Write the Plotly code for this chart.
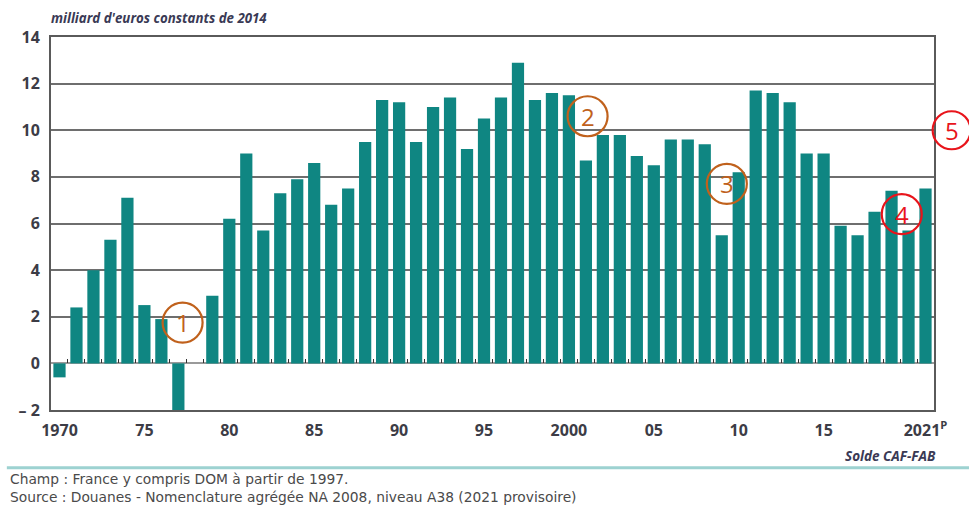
import plotly.graph_objects as go

years = list(range(1970, 2022))
values = [-0.6, 2.4, 4.0, 5.3, 7.1, 2.5, 1.9, -2.0, 0.0, 2.9,
          6.2, 9.0, 5.7, 7.3, 7.9, 8.6, 6.8, 7.5, 9.5, 11.3,
          11.2, 9.5, 11.0, 11.4, 9.2, 10.5, 11.4, 12.9, 11.3, 11.6,
          11.5, 8.7, 9.8, 9.8, 8.9, 8.5, 9.6, 9.6, 9.4, 5.5,
          8.2, 11.7, 11.6, 11.2, 9.0, 9.0, 5.9, 5.5, 6.5, 7.4,
          5.7, 7.5]

xtick_vals = [1970, 1975, 1980, 1985, 1990, 1995, 2000, 2005, 2010, 2015, 2021]
xtick_text = ["1970", "75", "80", "85", "90", "95", "2000", "05", "10", "15", "2021<sup>P</sup>"]
ytick_vals = [-2, 0, 2, 4, 6, 8, 10, 12, 14]
ytick_text = ["– 2", "0", "2", "4", "6", "8", "10", "12", "14"]
minor_ticks = [y + 0.5 for y in years[:-1]]

# circled call-outs: (label, year, value, colour)
callouts = [("1", 1977.25, 1.75, "#c0611c"),
            ("2", 2001.1, 10.6, "#c0611c"),
            ("3", 2009.3, 7.7, "#c0611c"),
            ("4", 2019.6, 6.4, "#e8141b")]
callout5 = ("5", "#e8141b")

BAR = "#0f8682"
TXT = "#3c3c46"
FONT = "Open Sans"

fig = go.Figure()
fig.add_trace(go.Bar(x=years, y=values, marker=dict(color=BAR, line=dict(width=0)),
                     width=0.72, showlegend=False, hoverinfo="x+y"))
fig.add_trace(go.Scatter(x=[years[0]], y=[0], xaxis="x2", mode="markers",
                         marker=dict(opacity=0), showlegend=False, hoverinfo="skip"))

fig.update_layout(
    width=969, height=508, autosize=False,
    margin=dict(l=51, r=35, t=37, b=98),
    paper_bgcolor="white", plot_bgcolor="white",
    font=dict(family=FONT, color=TXT),
    xaxis=dict(range=[1969.5, 2021.5], tickmode="array", tickvals=xtick_vals, ticktext=xtick_text,
               showgrid=False, zeroline=False, showline=True, mirror=True,
               linecolor="#5a5a5a", linewidth=2, ticks="", ticklabelstandoff=5,
               tickfont=dict(size=16, family=FONT, weight="bold", color=TXT)),
    xaxis2=dict(range=[1969.5, 2021.5], overlaying="x", anchor="free", position=0.125,
                side="bottom", tickmode="array", tickvals=minor_ticks, ticks="inside",
                ticklen=4, tickwidth=1.2, tickcolor="#333", showticklabels=False,
                showline=False, showgrid=False, zeroline=False),
    yaxis=dict(range=[-2, 14], tickmode="array", tickvals=ytick_vals, ticktext=ytick_text,
               showgrid=True, gridcolor="#6e6e6e", gridwidth=1.5,
               zeroline=True, zerolinecolor="#9a9a9a", zerolinewidth=2,
               showline=True, mirror=True, linecolor="#5a5a5a", linewidth=2,
               ticks="", ticklabelstandoff=6,
               tickfont=dict(size=16, family=FONT, weight="bold", color=TXT)),
)

shapes = []
annotations = []
for lab, xv, yv, col in callouts:
    shapes.append(dict(type="circle", xref="x", yref="y", xsizemode="pixel", ysizemode="pixel",
                       xanchor=xv, yanchor=yv, x0=-20, x1=20, y0=-20, y1=20,
                       line=dict(color=col, width=2.2)))
    annotations.append(dict(x=xv, y=yv, xref="x", yref="y", text=lab, showarrow=False,
                            xanchor="center", yanchor="middle",
                            font=dict(size=24, color=col, family=FONT)))
# call-out 5 sits outside the frame
lab5, col5 = callout5
shapes.append(dict(type="circle", xref="paper", yref="paper", xsizemode="pixel", ysizemode="pixel",
                   xanchor=1.02, yanchor=0.75, x0=-19, x1=19, y0=-19, y1=19,
                   line=dict(color=col5, width=2.2)))
annotations.append(dict(x=1.02, y=0.75, xref="paper", yref="paper", text=lab5, showarrow=False,
                        xanchor="center", yanchor="middle",
                        font=dict(size=24, color=col5, family=FONT)))

# footer rule
shapes.append(dict(type="line", xref="paper", yref="paper", x0=-0.05, x1=1.05,
                   y0=-0.155, y1=-0.155, line=dict(color="#9dd2d1", width=3)))

annotations += [
    dict(x=0, y=1.0, xref="paper", yref="paper", yanchor="bottom", xanchor="left",
         xshift=-2, yshift=8,
         text="<i><b>milliard d'euros constants de 2014</b></i>", showarrow=False,
         font=dict(size=13.3, color="#3a3a55", family=FONT)),
    dict(x=1.0, y=-0.095, xref="paper", yref="paper", xanchor="right", yanchor="top", xshift=4,
         text="<i><b>Solde CAF-FAB</b></i>", showarrow=False,
         font=dict(size=13.5, color="#3a3a55", family=FONT)),
    dict(x=0, y=-0.172, xref="paper", yref="paper", xanchor="left", yanchor="top",
         xshift=-43, yshift=5,
         text="Champ : France y compris DOM à partir de 1997.<br>Source : Douanes - Nomenclature agrégée NA 2008, niveau A38 (2021 provisoire)",
         align="left", showarrow=False,
         font=dict(size=13.8, color="#4a4a4a", family="DejaVu Sans")),
]

fig.update_layout(shapes=shapes, annotations=annotations)
fig.write_html("out.html", post_script="document.body.style.margin='0px';",
               config={"displayModeBar": False})
